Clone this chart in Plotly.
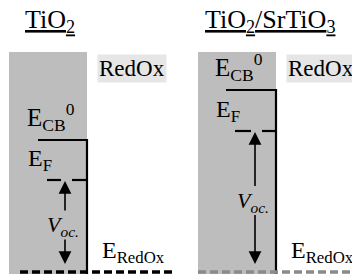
import plotly.graph_objects as go

# ---- data (energy levels, arbitrary units, up = higher energy) ----
panel_titles = ["<u>TiO<sub>2</sub></u>", "<u>TiO<sub>2</sub>/SrTiO<sub>3</sub></u>"]
e_cb = [134, 184]          # conduction band edge E_CB^0
e_f = [94, 143]            # Fermi level E_F
e_redox = 2                # redox level E_RedOx
e_box_top = 222            # top of semiconductor block
cb_label = "E<sub>CB</sub><sup>0</sup>"
f_label = "E<sub>F</sub>"
v_label = "<i>V</i><sub><i>oc.</i></sub>"
redox_label = "E<sub>RedOx</sub>"
electrolyte_label = "RedOx"

# ---- layout geometry ----
W, H = 360, 274
OFF = 8   # page body margin compensation
box_x0 = [9, 198]
wall_x = [87, 276]
cb_x0 = [38, 226]
ef_x0 = [47, 235]
arrow_x = [65, 255]
title_x = [50, 270]
redox_x = [[20, 175], [198, 370]]
redox_col = ["#000000", "#8a8a8a"]
FONT = "Liberation Serif, Times New Roman, serif"

fig = go.Figure()
shapes = []
ann = []

for i in range(2):
    # semiconductor block
    shapes.append(dict(type="rect", xref="x", yref="y", x0=box_x0[i], x1=wall_x[i],
                       y0=-15, y1=e_box_top, fillcolor="#bdbdbd", line_width=0, layer="below"))
    # E_CB line + interface wall
    fig.add_trace(go.Scatter(x=[cb_x0[i], wall_x[i], wall_x[i]], y=[e_cb[i], e_cb[i], -15],
                             mode="lines", line=dict(color="black", width=2.2),
                             hoverinfo="skip", showlegend=False))
    # E_F dashed (gap around arrow)
    fig.add_trace(go.Scatter(x=[ef_x0[i], arrow_x[i] - 4, None, arrow_x[i] + 7, wall_x[i]],
                             y=[e_f[i], e_f[i], None, e_f[i], e_f[i]],
                             mode="lines", line=dict(color="black", width=2.2),
                             hoverinfo="skip", showlegend=False))
    # E_RedOx dashed
    fig.add_trace(go.Scatter(x=redox_x[i], y=[e_redox, e_redox], mode="lines",
                             line=dict(color=redox_col[i], width=3.5, dash="8px,4px"),
                             hoverinfo="skip", showlegend=False))
    mid = (e_f[i] + e_redox) / 2
    # Voc arrows
    ann.append(dict(x=arrow_x[i], y=e_f[i] - 1, ax=arrow_x[i], ay=mid + 14,
                    xref="x", yref="y", axref="x", ayref="y", text="", showarrow=True,
                    arrowhead=2, arrowsize=1.6, arrowwidth=1.6, arrowcolor="black", standoff=0))
    ann.append(dict(x=arrow_x[i], y=e_redox + 8, ax=arrow_x[i], ay=mid - 12,
                    xref="x", yref="y", axref="x", ayref="y", text="", showarrow=True,
                    arrowhead=2, arrowsize=1.6, arrowwidth=1.6, arrowcolor="black", standoff=0))
    ann.append(dict(x=arrow_x[i] - 2, y=mid, text=v_label, showarrow=False,
                    xref="x", yref="y", font=dict(size=22, family=FONT, color="black")))
    # titles
    ann.append(dict(x=title_x[i], y=H - 21, text=panel_titles[i], showarrow=False,
                    xref="x", yref="y", font=dict(size=26, family=FONT, color="black")))
    # level labels
    ann.append(dict(x=cb_x0[i] - 13, y=e_cb[i] + 3, text=cb_label, showarrow=False,
                    xref="x", yref="y", xanchor="left", yanchor="bottom",
                    font=dict(size=25, family=FONT, color="black")))
    ann.append(dict(x=ef_x0[i] - 21, y=e_f[i] + 3, text=f_label, showarrow=False,
                    xref="x", yref="y", xanchor="left", yanchor="bottom",
                    font=dict(size=24, family=FONT, color="black")))
    ann.append(dict(x=wall_x[i] + 13, y=e_redox + 3, text=redox_label, showarrow=False,
                    xref="x", yref="y", xanchor="left", yanchor="bottom",
                    font=dict(size=24, family=FONT, color="black")))
    ann.append(dict(x=wall_x[i] + 10, y=H - 68, text=electrolyte_label, showarrow=False,
                    xref="x", yref="y", xanchor="left", yanchor="middle", bgcolor="#e6e6e6",
                    borderpad=1, font=dict(size=23, family=FONT, color="black")))

fig.update_layout(
    width=W, height=H, margin=dict(l=0, r=0, t=0, b=0),
    paper_bgcolor="white", plot_bgcolor="white",
    xaxis=dict(range=[OFF, W + OFF], visible=False, fixedrange=True),
    yaxis=dict(range=[-OFF, H - OFF], visible=False, fixedrange=True),
    shapes=shapes, annotations=ann, showlegend=False,
)
fig.write_html("out.html")
